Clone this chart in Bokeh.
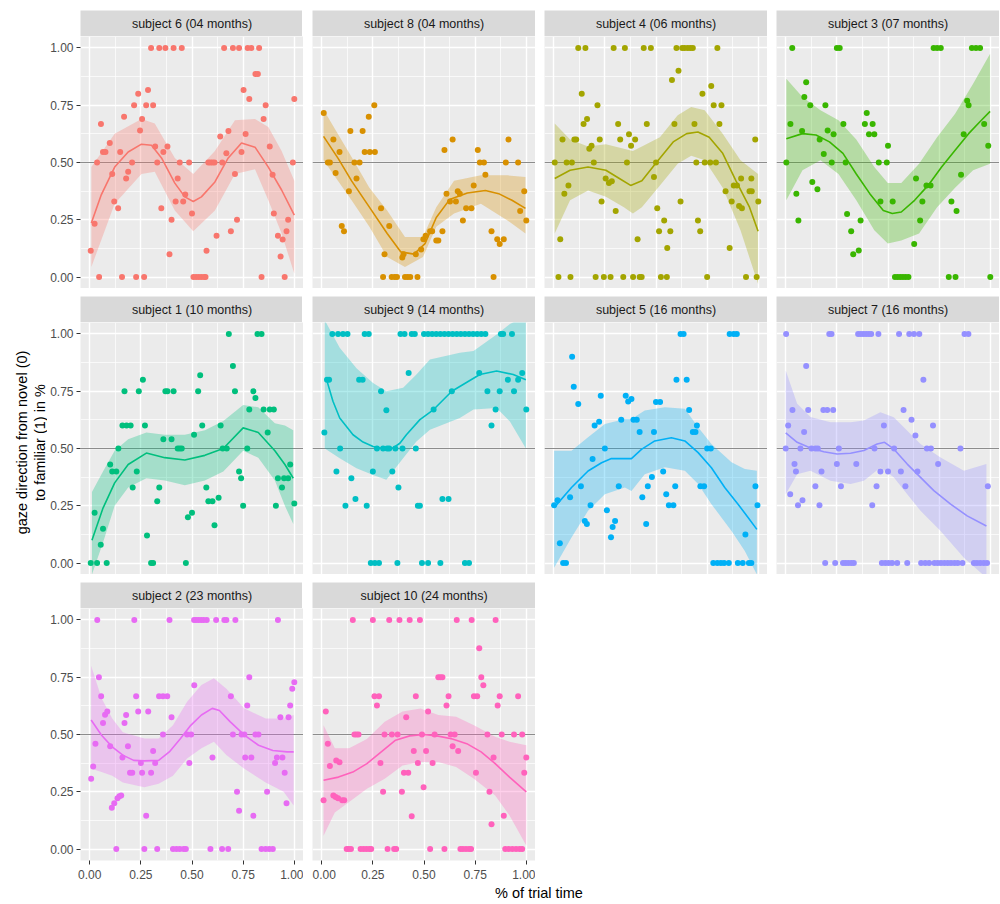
import math
from bokeh.plotting import figure
from bokeh.layouts import column, row
from bokeh.models import FixedTicker, NumeralTickFormatter, Range1d, Grid, Span
from bokeh.core.properties import value
from bokeh.embed import file_html
from bokeh.resources import INLINE

FONT = "Liberation Sans"

LABELS = ["subject 6 (04 months)", "subject 8 (04 months)", "subject 4 (06 months)",
          "subject 3 (07 months)", "subject 1 (10 months)", "subject 9 (14 months)",
          "subject 5 (16 months)", "subject 7 (16 months)", "subject 2 (23 months)",
          "subject 10 (24 months)"]
COLORS = ["#F8766D", "#D89000", "#A3A500", "#39B600", "#00BF7D",
          "#00BFC4", "#00B0F6", "#9590FF", "#E76BF3", "#FF62BC"]

X_TICKS = [0.0, 0.25, 0.5, 0.75, 1.0]
Y_TICKS = [0.0, 0.25, 0.5, 0.75, 1.0]
MINOR = [0.125, 0.375, 0.625, 0.875]
HLINE = 0.5
X_TITLE = "% of trial time"
Y_TITLE = "gaze direction from novel (0)\nto familiar (1) in %"

# ---- observed points (x, y) per subject ----
S6_PTS = [(0.005,0.115),(0.024,0.233),(0.036,0.50),(0.046,0),(0.055,0.668),(0.065,0.546),(0.077,0.546),
          (0.098,0.585),(0.11,0.45),(0.12,0.33),(0.139,0.30),(0.149,0.546),(0.158,0),(0.168,0.70),
          (0.178,0.43),(0.188,0.46),(0.207,0.50),(0.217,0.75),(0.227,0),(0.237,0.80),(0.246,0.64),
          (0.256,0.69),(0.266,0),(0.276,0.75),(0.285,0.817),(0.30,1),(0.31,0.75),(0.32,0.57),(0.33,0.50),
          (0.34,1),(0.37,1),(0.35,0.30),(0.36,0.546),(0.38,0.57),(0.39,0.10),(0.40,0.25),(0.41,1),
          (0.42,0.33),(0.43,0.43),(0.44,0.50),(0.45,1),(0.457,0.33),(0.467,0.36),(0.486,0.50),(0.50,0.277),
          (0.507,0),(0.52,0),(0.533,0),(0.546,0),(0.56,0),(0.566,0),(0.571,0.115),(0.58,0.5),(0.59,0.5),
          (0.60,0.5),(0.61,0.5),(0.62,0.18),(0.638,0.614),(0.648,0.50),(0.657,1),(0.668,0.54),(0.678,0.638),
          (0.69,0.20),(0.70,1),(0.71,0.45),(0.72,0.25),(0.73,1),(0.742,0.546),(0.752,0.817),(0.762,0.624),
          (0.772,1),(0.79,1),(0.78,0.777),(0.81,0.886),(0.822,0.886),(0.828,1),(0.84,0),(0.85,0.69),
          (0.86,0.75),(0.88,0.57),(0.894,0.447),(0.90,0.277),(0.92,0.18),(0.933,0.09),(0.943,0.164),
          (0.953,0),(0.962,0.20),(0.97,0.25),(0.993,0.50),(1.0,0.777)]
S8_PTS = [(0.01,0.716),(0.03,0.5),(0.04,0.5),(0.057,0.60),(0.068,0.454),(0.087,0.546),(0.098,0.223),
          (0.109,0.20),(0.133,0.375),(0.14,0.638),(0.16,0.5),(0.185,0.5),(0.17,0.43),(0.20,0.638),
          (0.21,0.546),(0.235,0.546),(0.26,0.546),(0.23,0.70),(0.257,0.75),(0.29,0.30),(0.30,0),
          (0.307,0.10),(0.33,0.223),(0.342,0),(0.357,0),(0.368,0),(0.407,0),(0.42,0),(0.433,0),(0.468,0),
          (0.394,0.085),(0.40,0.10),(0.46,0.10),(0.486,0.12),(0.497,0.165),(0.508,0.18),(0.53,0.20),
          (0.54,0.20),(0.56,0.16),(0.57,0.16),(0.59,0.20),(0.60,0.555),(0.61,0.364),(0.627,0.33),
          (0.656,0.33),(0.64,0.60),(0.665,0.375),(0.675,0.364),(0.69,0.247),(0.706,0.30),(0.732,0.30),
          (0.743,0.40),(0.763,0.555),(0.773,0.5),(0.793,0.5),(0.80,0.447),(0.83,0.20),(0.84,0),
          (0.858,0.165),(0.87,0.144),(0.89,0.165),(0.90,0.5),(0.913,0.60),(0.96,0.5),(0.97,0.288),
          (0.99,0.375),(1.0,0.247)]
S4_PTS = [(0.005,0.5),(0.023,0),(0.032,0.165),(0.043,0.60),(0.101,0.60),(0.11,0.60),(0.052,0.364),
          (0.063,0.5),(0.089,0.5),(0.072,0.40),(0.082,0),(0.12,1),(0.155,1),(0.137,0.80),(0.146,0.668),
          (0.163,0.69),(0.174,0.56),(0.185,0.573),(0.196,0.5),(0.205,0),(0.214,0.75),(0.225,0.60),
          (0.234,0.33),(0.245,0),(0.278,0),(0.254,0.43),(0.27,0.41),(0.284,0.418),(0.293,1),(0.303,0.288),
          (0.315,0.668),(0.325,0.60),(0.34,0),(0.348,1),(0.358,0.5),(0.368,0.623),(0.378,0.573),(0.388,0),
          (0.42,0),(0.43,0),(0.398,0.60),(0.41,0.165),(0.44,1),(0.455,0.668),(0.475,1),(0.49,0.437),
          (0.50,0.5),(0.506,0.30),(0.515,0.20),(0.524,0),(0.553,0),(0.54,0.247),(0.555,0.127),(0.57,0.20),
          (0.578,0.86),(0.59,0.668),(0.60,1),(0.61,0.90),(0.62,0.33),(0.628,1),(0.64,1),(0.655,1),
          (0.668,1),(0.68,1),(0.688,0.668),(0.697,0.5),(0.705,0.247),(0.716,0.20),(0.727,0.80),(0.738,0.5),
          (0.765,0.5),(0.793,0.5),(0.75,0),(0.77,0.834),(0.782,0.75),(0.82,0.75),(0.80,1),(0.81,0.668),
          (0.84,0.375),(0.86,0.127),(0.87,0.33),(0.88,0.40),(0.896,0.40),(0.906,0.31),(0.92,0.30),
          (0.916,0.43),(0.94,0),(0.957,0.375),(0.968,0.375),(0.966,0.43),(0.985,0.60),(0.992,0),(1.0,0.33)]
S3_PTS = [(0.003,0.5),(0.023,0.668),(0.032,1),(0.052,0.364),(0.062,0.247),(0.08,0.638),(0.091,0.786),
          (0.10,0.85),(0.12,0.75),(0.13,0.415),(0.155,0.383),(0.166,0.60),(0.186,0.537),(0.194,0.75),
          (0.205,0.64),(0.225,0.5),(0.234,0.623),(0.25,1),(0.264,1),(0.282,0.668),(0.293,0.5),(0.30,0.275),
          (0.32,0.20),(0.33,0.10),(0.357,0.116),(0.366,0.247),(0.387,0.668),(0.396,0.716),(0.407,0.623),
          (0.433,0.623),(0.425,0.668),(0.455,0.5),(0.463,0.33),(0.494,0.5),(0.50,0.573),(0.523,0.33),
          (0.534,0),(0.547,0),(0.56,0),(0.573,0),(0.586,0),(0.60,0),(0.628,0.144),(0.637,0.43),
          (0.657,0.247),(0.668,0.33),(0.688,0.40),(0.708,0.40),(0.723,1),(0.74,1),(0.758,1),(0.797,0),
          (0.83,0),(0.81,0.33),(0.835,0.288),(0.857,0.447),(0.87,0.623),(0.887,0.77),(0.894,0.75),
          (0.91,1),(0.93,1),(0.95,1),(0.97,0.668),(0.99,0.573),(1.0,0)]
S1_PTS = [(0.005,0),(0.024,0.22),(0.036,0),(0.054,0.08),(0.065,0.15),(0.083,0),(0.10,0.43),(0.11,0.40),
          (0.13,0.40),(0.14,0.50),(0.16,0.60),(0.17,0.75),(0.18,0.60),(0.20,0.60),(0.21,0.33),(0.23,0.40),
          (0.24,0.75),(0.26,0.80),(0.27,0.60),(0.28,0.12),(0.30,0),(0.31,0),(0.33,0.27),(0.34,0.33),
          (0.36,0.54),(0.37,0.75),(0.38,0.75),(0.40,0.54),(0.41,0.75),(0.43,0.50),(0.44,0.50),(0.45,0.50),
          (0.47,0),(0.48,0.20),(0.50,0.22),(0.51,0.56),(0.53,0.75),(0.54,0.82),(0.55,0.60),(0.57,0.33),
          (0.58,0.27),(0.60,0.27),(0.61,0.165),(0.63,0.285),(0.64,0.60),(0.65,0.50),(0.67,0.50),(0.68,1.0),
          (0.70,0.86),(0.71,0.75),(0.73,0.40),(0.74,0.37),(0.75,0.25),(0.77,0.50),(0.78,0.67),(0.80,0.75),
          (0.81,0.72),(0.82,1.0),(0.84,1.0),(0.85,0.67),(0.87,0.57),(0.88,0.67),(0.90,0.67),(0.91,0.25),
          (0.92,0.37),(0.94,0.33),(0.95,0.37),(0.97,0.37),(0.98,0.43),(1.0,0.26)]
S9_PTS = [(0.013,0.57),(0.026,0.80),(0.036,0.80),(0.052,1),(0.08,1),(0.104,1),(0.126,1),(0.072,0.40),
          (0.09,0.5),(0.116,0.25),(0.145,0.37),(0.165,0.28),(0.183,0.80),(0.20,0.80),(0.21,1),(0.23,1),
          (0.22,0.25),(0.24,0),(0.26,0),(0.28,0),(0.25,0.40),(0.27,0.5),(0.29,0.75),(0.30,0.5),(0.32,0.5),
          (0.33,0.5),(0.36,0.5),(0.316,0.667),(0.345,0.40),(0.37,0),(0.375,0.33),(0.385,1),(0.405,1),
          (0.395,0.5),(0.425,0.83),(0.44,1),(0.455,1),(0.46,0.5),(0.47,0.25),(0.48,0.25),(0.49,0),(0.52,0),
          (0.50,1),(0.52,1),(0.54,1),(0.56,1),(0.58,1),(0.60,1),(0.62,1),(0.64,1),(0.66,1),(0.68,1),
          (0.70,1),(0.72,1),(0.74,1),(0.76,1),(0.78,1),(0.80,1),(0.547,0.67),(0.58,0),(0.59,0.28),
          (0.62,0.28),(0.636,0.75),(0.70,0),(0.72,0),(0.77,0.83),(0.81,0.75),(0.83,0.60),(0.85,0.67),
          (0.87,0.75),(0.876,1),(0.887,1),(0.91,0.80),(0.93,1),(0.94,0.75),(0.96,0.80),(0.98,0.83),(1.0,0.67)]
S5_PTS = [(0.002,0.252),(0.019,0.274),(0.03,0.086),(0.046,0),(0.06,0),(0.08,0.287),(0.09,0.90),
          (0.098,0.77),(0.12,0.694),(0.133,0.335),(0.152,0.183),(0.162,0.17),(0.18,0.252),(0.19,0.454),
          (0.20,0.60),(0.222,0.617),(0.23,0.73),(0.25,0.50),(0.26,0.23),(0.28,0.113),(0.288,0.157),
          (0.30,0.183),(0.318,0.335),(0.33,0.626),(0.352,0.73),(0.364,0.705),(0.38,0.716),(0.39,0.626),
          (0.406,0.626),(0.42,0.572),(0.433,0.287),(0.452,0.17),(0.46,0.335),(0.48,0.376),(0.49,0.572),
          (0.50,0.703),(0.52,0.703),(0.535,0.40),(0.55,0.30),(0.563,0.252),(0.585,0.252),(0.594,0.335),
          (0.60,0.80),(0.62,1),(0.635,1),(0.65,0.80),(0.662,0.668),(0.68,0.572),(0.693,0.572),(0.70,0.60),
          (0.717,0.335),(0.735,0.335),(0.75,0.5),(0.768,0.5),(0.78,0),(0.80,0),(0.817,0),(0.833,0),
          (0.856,0),(0.86,1),(0.88,1),(0.895,1),(0.90,0),(0.924,0),(0.937,0.125),(0.954,0),(0.966,0),
          (0.986,0.335),(0.996,0.252)]
S7_PTS = [(0.002,1),(0.0,0.5),(0.012,0.60),(0.022,0.30),(0.033,0.668),(0.043,0.432),(0.05,0.40),
          (0.06,0.252),(0.072,0.5),(0.082,0.274),(0.09,0.572),(0.10,0.86),(0.11,0.668),(0.126,0.5),
          (0.145,0.5),(0.157,0.5),(0.145,0.335),(0.165,0.252),(0.175,0.40),(0.184,0.668),(0.203,0.668),
          (0.232,0.668),(0.193,0),(0.213,1),(0.224,1),(0.242,0),(0.25,0.432),(0.26,0.5),(0.27,0.335),
          (0.28,0),(0.293,0),(0.306,0),(0.32,0),(0.333,0),(0.345,0.432),(0.354,1),(0.367,1),(0.38,1),
          (0.393,1),(0.406,1),(0.418,1),(0.423,0.252),(0.434,0.5),(0.444,0.335),(0.453,1),(0.463,0.40),
          (0.47,0),(0.487,0),(0.503,0),(0.52,0),(0.545,0),(0.48,0.60),(0.50,0.40),(0.53,0.5),(0.554,1),
          (0.563,0.40),(0.576,0.668),(0.585,0.335),(0.594,0),(0.604,1),(0.627,1),(0.653,1),(0.615,0.626),
          (0.634,0.557),(0.644,0.40),(0.662,0),(0.682,0),(0.701,0),(0.727,0),(0.743,0),(0.759,0),
          (0.776,0),(0.792,0),(0.808,0),(0.825,0),(0.841,0),(0.864,0),(0.673,0.80),(0.69,0.5),(0.71,0.5),
          (0.72,0.60),(0.745,0.432),(0.854,0.5),(0.874,1),(0.893,1),(0.92,0),(0.935,0),(0.951,0),
          (0.968,0),(0.984,0),(0.988,0.335)]
S2_PTS = [(0.007,0.307),(0.017,0.36),(0.028,0.46),(0.037,1),(0.045,0.75),(0.056,0.667),(0.065,0.55),
          (0.075,0.586),(0.086,0.60),(0.10,0.449),(0.108,0.18),(0.12,0.20),(0.13,0),(0.136,0.222),
          (0.145,0.23),(0.154,0.234),(0.16,0.40),(0.17,0.55),(0.178,0.585),(0.187,0.449),(0.197,0.333),
          (0.208,0.333),(0.218,1),(0.227,0.667),(0.237,0.60),(0.25,0.376),(0.256,0.333),(0.267,0),
          (0.276,0.145),(0.286,0.60),(0.30,0.333),(0.31,0.428),(0.32,0.376),(0.33,0),(0.339,0.667),
          (0.358,0.667),(0.379,0.667),(0.358,0.50),(0.39,1),(0.40,0.575),(0.407,0),(0.424,0),(0.44,0),
          (0.459,0),(0.47,0),(0.476,0.50),(0.487,0.376),(0.496,0.50),(0.51,1),(0.511,0.715),(0.52,1),
          (0.532,1),(0.545,1),(0.557,1),(0.572,1),(0.60,0.40),(0.59,0),(0.618,1),(0.647,0),(0.658,1),
          (0.668,1),(0.677,0),(0.69,0.667),(0.70,0.50),(0.712,1),(0.72,0.25),(0.73,0.167),(0.742,0.5),
          (0.756,0.5),(0.76,0.40),(0.77,0.627),(0.78,0.75),(0.79,0.40),(0.80,0.145),(0.81,0.5),(0.825,0.5),
          (0.84,0),(0.86,0),(0.878,0),(0.895,0),(0.867,0.25),(0.906,0.376),(0.915,0.40),(0.92,1),
          (0.932,0.575),(0.942,0.40),(0.953,0.333),(0.962,0.20),(0.972,0.575),(0.98,0.627),(0.99,0.70),
          (1.0,0.728)]
S10_PTS = [(0.009,0.213),(0.02,0.60),(0.03,0.46),(0.04,0.363),(0.057,0.234),(0.068,0.227),(0.08,0.222),
           (0.071,0.386),(0.087,0.379),(0.10,0.213),(0.11,0.213),(0.122,0),(0.132,0),(0.143,0),(0.152,1),
           (0.16,0.5),(0.17,0.5),(0.18,0.5),(0.19,0),(0.204,0),(0.218,0),(0.232,0),(0.242,0),(0.25,1),
           (0.258,0.667),(0.28,0.667),(0.27,0.627),(0.287,0.376),(0.30,0.25),(0.307,0.5),(0.322,0),(0.33,1),
           (0.343,0.5),(0.354,0),(0.364,0),(0.371,0.5),(0.38,1),(0.392,0.25),(0.402,0.333),(0.423,0.333),
           (0.413,0.575),(0.43,1),(0.44,0.143),(0.45,0.428),(0.46,0.667),(0.47,0.376),(0.48,1),(0.49,0.5),
           (0.498,0.27),(0.51,0.428),(0.52,0.60),(0.53,0),(0.542,0.376),(0.552,0.5),(0.57,0.75),(0.58,0.75),
           (0.59,0.75),(0.60,0),(0.61,0.627),(0.62,0.667),(0.63,0.5),(0.65,0.5),(0.64,0.449),(0.66,1),
           (0.667,0.428),(0.678,0),(0.69,0),(0.705,0),(0.72,0),(0.73,0),(0.733,1),(0.744,0.667),(0.76,0.667),
           (0.754,0.333),(0.77,0.877),(0.78,0.75),(0.79,0.715),(0.81,0.5),(0.82,0.25),(0.83,0.108),
           (0.84,0.40),(0.85,1),(0.86,0.627),(0.87,0.667),(0.88,0.5),(0.89,0.145),(0.897,0),(0.914,0),
           (0.932,0),(0.95,0),(0.967,0),(0.98,0),(0.94,0.5),(0.96,0.667),(0.98,0.5),(0.99,0.333),(1.0,0.40)]

# ---- smoothed fit and confidence band ----
S6_FIT_X = [0.008,0.057,0.122,0.188,0.253,0.302,0.351,0.416,0.465,0.506,0.546,0.612,0.677,0.742,0.808,0.873,0.938,1.0]
S6_FIT_Y = [0.236,0.36,0.48,0.546,0.58,0.575,0.52,0.41,0.35,0.33,0.35,0.415,0.52,0.585,0.567,0.48,0.38,0.27]
S6_BAND_X = [0.008,0.122,0.253,0.318,0.416,0.506,0.612,0.710,0.808,0.873,0.938,1.0]
S6_UP = [0.48,0.626,0.69,0.67,0.52,0.45,0.55,0.684,0.69,0.655,0.55,0.42]
S6_LO = [0.044,0.32,0.45,0.46,0.29,0.20,0.29,0.45,0.47,0.335,0.19,0.015]

S8_FIT_X = [0.009,0.081,0.146,0.233,0.320,0.386,0.451,0.505,0.560,0.625,0.712,0.800,0.865,0.930,0.996]
S8_FIT_Y = [0.614,0.517,0.42,0.305,0.19,0.11,0.10,0.146,0.26,0.338,0.367,0.378,0.364,0.335,0.30]
S8_BAND_X = [0.009,0.146,0.233,0.320,0.407,0.495,0.560,0.647,0.778,0.908,0.996]
S8_UP = [0.73,0.524,0.39,0.29,0.175,0.175,0.305,0.42,0.444,0.444,0.437]
S8_LO = [0.51,0.335,0.22,0.087,0.044,0.087,0.22,0.277,0.32,0.247,0.19]

S4_FIT_X = [0.005,0.080,0.168,0.255,0.321,0.376,0.431,0.497,0.584,0.650,0.705,0.760,0.826,0.891,0.957,0.999]
S4_FIT_Y = [0.43,0.466,0.48,0.466,0.43,0.40,0.42,0.495,0.59,0.626,0.633,0.61,0.54,0.42,0.305,0.20]
S4_BAND_X = [0.005,0.080,0.168,0.255,0.343,0.387,0.431,0.519,0.606,0.672,0.738,0.826,0.913,0.999]
S4_UP = [0.67,0.60,0.57,0.58,0.56,0.55,0.57,0.61,0.706,0.742,0.728,0.626,0.51,0.45]
S4_LO = [0.19,0.335,0.378,0.35,0.305,0.277,0.305,0.40,0.495,0.53,0.51,0.39,0.204,-0.03]

S3_FIT_X = [0.003,0.082,0.148,0.214,0.280,0.345,0.411,0.477,0.521,0.565,0.630,0.696,0.762,0.828,0.894,0.948,0.999]
S3_FIT_Y = [0.604,0.626,0.62,0.59,0.54,0.45,0.364,0.29,0.277,0.284,0.335,0.40,0.48,0.553,0.626,0.677,0.723]
S3_BAND_X = [0.003,0.082,0.170,0.258,0.345,0.433,0.499,0.565,0.652,0.740,0.828,0.916,0.999]
S3_UP = [0.866,0.786,0.728,0.684,0.60,0.48,0.41,0.41,0.495,0.61,0.713,0.844,0.975]
S3_LO = [0.335,0.466,0.51,0.45,0.335,0.204,0.146,0.16,0.19,0.305,0.39,0.466,0.495]

S1_FIT_X = [0.011,0.065,0.122,0.188,0.277,0.367,0.465,0.563,0.653,0.750,0.824,0.905,0.954,0.995]
S1_FIT_Y = [0.10,0.24,0.35,0.43,0.48,0.46,0.45,0.47,0.50,0.59,0.57,0.49,0.43,0.37]
S1_BAND_X = [0.011,0.065,0.122,0.188,0.277,0.367,0.465,0.563,0.653,0.750,0.824,0.905,0.954,0.995]
S1_UP = [0.31,0.40,0.49,0.54,0.57,0.56,0.56,0.58,0.62,0.69,0.68,0.61,0.60,0.58]
S1_LO = [-0.05,0.09,0.25,0.33,0.37,0.36,0.34,0.36,0.40,0.49,0.46,0.36,0.25,0.17]

S9_FIT_X = [0.026,0.055,0.088,0.153,0.202,0.251,0.300,0.349,0.382,0.414,0.480,0.547,0.636,0.773,0.855,0.936,0.998]
S9_FIT_Y = [0.794,0.706,0.633,0.56,0.528,0.509,0.50,0.503,0.523,0.56,0.626,0.67,0.75,0.823,0.838,0.823,0.80]
S9_BAND_X = [0.015,0.088,0.170,0.251,0.316,0.398,0.463,0.529,0.675,0.742,0.855,0.920,0.998]
S9_UP = [1.06,0.94,0.85,0.786,0.75,0.765,0.823,0.889,0.918,0.926,0.998,1.043,1.08]
S9_LO = [0.50,0.457,0.414,0.384,0.364,0.457,0.531,0.582,0.633,0.67,0.677,0.618,0.50]

S5_FIT_X = [0.002,0.087,0.168,0.234,0.282,0.380,0.429,0.494,0.575,0.641,0.706,0.771,0.836,0.901,0.950,0.993]
S5_FIT_Y = [0.242,0.33,0.402,0.438,0.456,0.456,0.496,0.533,0.547,0.533,0.482,0.416,0.33,0.257,0.199,0.147]
S5_BAND_X = [0.002,0.087,0.168,0.250,0.348,0.380,0.445,0.543,0.641,0.706,0.771,0.869,0.934,0.993]
S5_UP = [0.49,0.49,0.549,0.607,0.629,0.629,0.666,0.68,0.673,0.593,0.52,0.44,0.41,0.403]
S5_LO = [-0.02,0.111,0.228,0.30,0.33,0.315,0.388,0.418,0.403,0.345,0.257,0.14,0.053,-0.05]

S7_FIT_X = [0.0,0.056,0.121,0.186,0.251,0.317,0.382,0.447,0.483,0.528,0.594,0.659,0.724,0.806,0.887,0.981]
S7_FIT_Y = [0.568,0.527,0.502,0.486,0.476,0.479,0.491,0.52,0.527,0.498,0.432,0.374,0.316,0.257,0.206,0.162]
S7_BAND_X = [0.0,0.056,0.121,0.219,0.317,0.382,0.463,0.528,0.594,0.659,0.757,0.871,0.981]
S7_UP = [0.84,0.695,0.637,0.615,0.615,0.622,0.658,0.636,0.578,0.52,0.461,0.403,0.432]
S7_LO = [0.30,0.388,0.403,0.359,0.345,0.359,0.417,0.374,0.30,0.228,0.14,0.023,-0.064]

S2_FIT_X = [0.007,0.058,0.110,0.162,0.215,0.267,0.337,0.389,0.442,0.494,0.546,0.599,0.634,0.686,0.756,0.825,0.895,0.965,0.997]
S2_FIT_Y = [0.563,0.497,0.446,0.41,0.387,0.385,0.387,0.424,0.48,0.54,0.585,0.614,0.605,0.556,0.497,0.453,0.43,0.424,0.424]
S2_BAND_X = [0.007,0.058,0.110,0.162,0.267,0.337,0.407,0.476,0.546,0.607,0.668,0.756,0.860,0.948,0.997]
S2_UP = [0.80,0.658,0.57,0.51,0.482,0.482,0.54,0.643,0.716,0.745,0.70,0.614,0.57,0.57,0.585]
S2_LO = [0.35,0.336,0.32,0.29,0.27,0.285,0.32,0.395,0.44,0.468,0.41,0.35,0.29,0.25,0.19]

S10_FIT_X = [0.009,0.082,0.152,0.221,0.291,0.361,0.430,0.50,0.570,0.639,0.709,0.779,0.848,0.918,1.0]
S10_FIT_Y = [0.30,0.314,0.336,0.373,0.424,0.475,0.494,0.50,0.493,0.48,0.46,0.424,0.373,0.314,0.25]
S10_BAND_X = [0.009,0.064,0.134,0.221,0.308,0.395,0.483,0.570,0.657,0.744,0.848,0.918,1.0]
S10_UP = [0.54,0.44,0.44,0.48,0.556,0.60,0.614,0.585,0.577,0.54,0.49,0.468,0.453]
S10_LO = [0.058,0.16,0.205,0.263,0.307,0.365,0.38,0.38,0.358,0.307,0.234,0.146,0.015]

PTS = [S6_PTS, S8_PTS, S4_PTS, S3_PTS, S1_PTS, S9_PTS, S5_PTS, S7_PTS, S2_PTS, S10_PTS]
FITS = [(S6_FIT_X, S6_FIT_Y, S6_BAND_X, S6_LO, S6_UP), (S8_FIT_X, S8_FIT_Y, S8_BAND_X, S8_LO, S8_UP),
        (S4_FIT_X, S4_FIT_Y, S4_BAND_X, S4_LO, S4_UP), (S3_FIT_X, S3_FIT_Y, S3_BAND_X, S3_LO, S3_UP),
        (S1_FIT_X, S1_FIT_Y, S1_BAND_X, S1_LO, S1_UP), (S9_FIT_X, S9_FIT_Y, S9_BAND_X, S9_LO, S9_UP),
        (S5_FIT_X, S5_FIT_Y, S5_BAND_X, S5_LO, S5_UP), (S7_FIT_X, S7_FIT_Y, S7_BAND_X, S7_LO, S7_UP),
        (S2_FIT_X, S2_FIT_Y, S2_BAND_X, S2_LO, S2_UP), (S10_FIT_X, S10_FIT_Y, S10_BAND_X, S10_LO, S10_UP)]

# ---- layout (pixels) ----
FW, FH = 223, 252
STRIP_H = 26
TOP = 10
YTITLE_W = 47
COL1_LEFT = 32          # frame of column 1 starts at YTITLE_W + COL1_LEFT = 79
GAP_X = 9
GAP_Y = 8
NCOL = 4
YTITLE_CENTER_FROM_TOP = 442
YTITLE_X = 30.5


def blank_fig(fw, fh, xr, yr, **kw):
    f = figure(frame_width=fw, frame_height=fh, x_range=xr, y_range=yr,
               x_axis_location=None, y_axis_location=None, toolbar_location=None,
               output_backend="svg", min_border=0, min_border_right=0, min_border_bottom=0,
               **kw)
    for g in f.grid:
        g.visible = False
    f.outline_line_color = None
    f.border_fill_color = "white"
    f.background_fill_color = "white"
    return f


def style_axis(ax, ticks):
    ax.ticker = FixedTicker(ticks=ticks)
    ax.formatter = NumeralTickFormatter(format="0.00")
    ax.major_label_text_font = FONT
    ax.major_label_text_font_size = "12px"
    ax.major_label_text_color = "#4D4D4D"
    ax.major_tick_line_color = "#333333"
    ax.major_tick_out = 4
    ax.major_tick_in = 0
    ax.minor_tick_line_color = None
    ax.axis_line_color = None


def make_strip(label, left, top):
    s = blank_fig(FW, STRIP_H, Range1d(0, 1), Range1d(0, 1),
                  min_border_left=left, min_border_top=top)
    s.background_fill_color = "#D9D9D9"
    s.text(x=[0.5], y=[0.5], text=[label], text_align="center", text_baseline="middle",
           text_font=value(FONT), text_font_size="12.5px", text_color="#1A1A1A")
    return s


def make_panel(i, left_axis, bottom_axis):
    p = figure(frame_width=FW, frame_height=FH,
               x_range=Range1d(-0.045, 1.045), y_range=Range1d(-0.05, 1.05),
               x_axis_location="below" if bottom_axis else None,
               y_axis_location="left" if left_axis else None,
               toolbar_location=None, output_backend="svg",
               min_border=0, min_border_left=COL1_LEFT if left_axis else 0,
               min_border_right=0, min_border_top=0, min_border_bottom=0)
    for g in p.grid:
        g.visible = False
    p.background_fill_color = "#EBEBEB"
    p.border_fill_color = "white"
    p.outline_line_color = None
    for dim, ticks in ((0, X_TICKS), (1, Y_TICKS)):
        p.add_layout(Grid(dimension=dim, ticker=FixedTicker(ticks=ticks, minor_ticks=MINOR),
                          grid_line_color="white", grid_line_width=1.4,
                          minor_grid_line_color="white", minor_grid_line_width=0.7), "center")
    p.add_layout(Span(location=HLINE, dimension="width", line_color="#8C8C8C", line_width=1,
                      level="underlay"))
    if left_axis:
        ax = p.yaxis[0]
        style_axis(ax, Y_TICKS)
        ax.major_label_standoff = 3
    if bottom_axis:
        ax = p.xaxis[0]
        style_axis(ax, X_TICKS)
        ax.major_label_standoff = 5
    c = COLORS[i]
    fx, fy, bx, lo, up = FITS[i]
    p.varea(x=bx, y1=lo, y2=up, fill_color=c, fill_alpha=0.3)
    xs = [pt[0] for pt in PTS[i]]
    ys = [pt[1] for pt in PTS[i]]
    p.scatter(x=xs, y=ys, size=6, fill_color=c, line_color=None)
    p.line(x=fx, y=fy, line_color=c, line_width=1.6)
    return p


n = len(LABELS)
nrows = (n + NCOL - 1) // NCOL
rows = []
for r in range(nrows):
    cells = []
    for cidx in range(NCOL):
        i = r * NCOL + cidx
        if i >= n:
            break
        left = cidx == 0
        bottom = r == nrows - 1
        strip = make_strip(LABELS[i], COL1_LEFT if left else 0, TOP if r == 0 else 0)
        panel = make_panel(i, left, bottom)
        cells.append(column(strip, panel, spacing=0))
    rows.append(row(cells, spacing=GAP_X))

# footer with the x title, centred over the panel area
footer = blank_fig(NCOL * FW + (NCOL - 1) * GAP_X, 20, Range1d(0, 1), Range1d(0, 1),
                   min_border_left=YTITLE_W + COL1_LEFT, min_border_top=0)
footer.text(x=[0.5], y=[0.45], text=[X_TITLE], text_align="center", text_baseline="middle",
            text_font=value(FONT), text_font_size="14.5px", text_color="black")

# left strip with the y title
yt_h = TOP + 2 * (STRIP_H + FH) + GAP_Y
ytitle = blank_fig(YTITLE_W, yt_h, Range1d(0, YTITLE_W), Range1d(0, yt_h), min_border_left=0,
                   min_border_top=0)
ytitle.text(x=[YTITLE_X], y=[yt_h - YTITLE_CENTER_FROM_TOP], text=[Y_TITLE], angle=math.pi / 2,
            text_align="center", text_baseline="middle", text_line_height=1.07,
            text_font=value(FONT), text_font_size="14.5px", text_color="black")

grid_col = column(rows, spacing=GAP_Y)
top_part = row(ytitle, grid_col, spacing=0)
layout = column(top_part, footer, spacing=0)

open("out.html", "w").write(file_html(layout, INLINE))
